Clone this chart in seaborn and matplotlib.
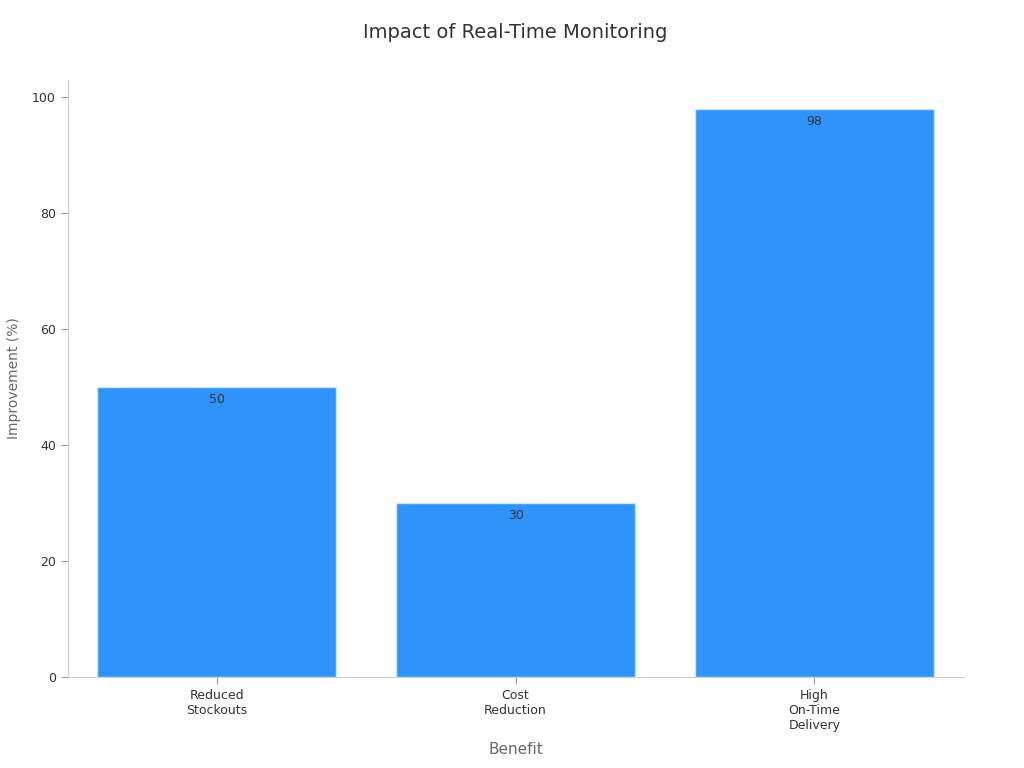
import seaborn as sns
import matplotlib.pyplot as plt
import pandas as pd

benefits = ["Reduced\nStockouts", "Cost\nReduction", "High\nOn-Time\nDelivery"]
improvement = [50, 30, 98]

df = pd.DataFrame({"Benefit": benefits, "Improvement": improvement})

sns.set_style("white")
plt.rcParams['font.family'] = ['DejaVu Sans']

fig, ax = plt.subplots(figsize=(10.24, 7.68), dpi=100)
sns.barplot(data=df, x="Benefit", y="Improvement", color="#2E93FA", saturation=1,
            width=0.8, edgecolor="#cfe3fb", linewidth=1, ax=ax)

for i, v in enumerate(improvement):
    ax.text(i, v - 1, str(v), ha="center", va="top", fontsize=9, color="#333333")

ax.set_xlim(-0.5, 2.5)
ax.set_ylim(0, 103)
ax.set_yticks([0, 20, 40, 60, 80, 100])
ax.set_title("Impact of Real-Time Monitoring", fontsize=14, color="#333333", pad=30)
ax.set_xlabel("Benefit", fontsize=11, color="#666666", labelpad=7)
ax.set_ylabel("Improvement (%)", fontsize=10, color="#666666", labelpad=8)
ax.tick_params(axis="both", labelsize=9, colors="#333333", length=5, color="#999999")
ax.tick_params(axis="x", bottom=True)
ax.tick_params(axis="y", left=True)
sns.despine(ax=ax)
for s in ["left", "bottom"]:
    ax.spines[s].set_color("#d0d0d0")

fig.subplots_adjust(left=0.066, right=0.941, top=0.896, bottom=0.118)
plt.savefig("out.png", dpi=100)
